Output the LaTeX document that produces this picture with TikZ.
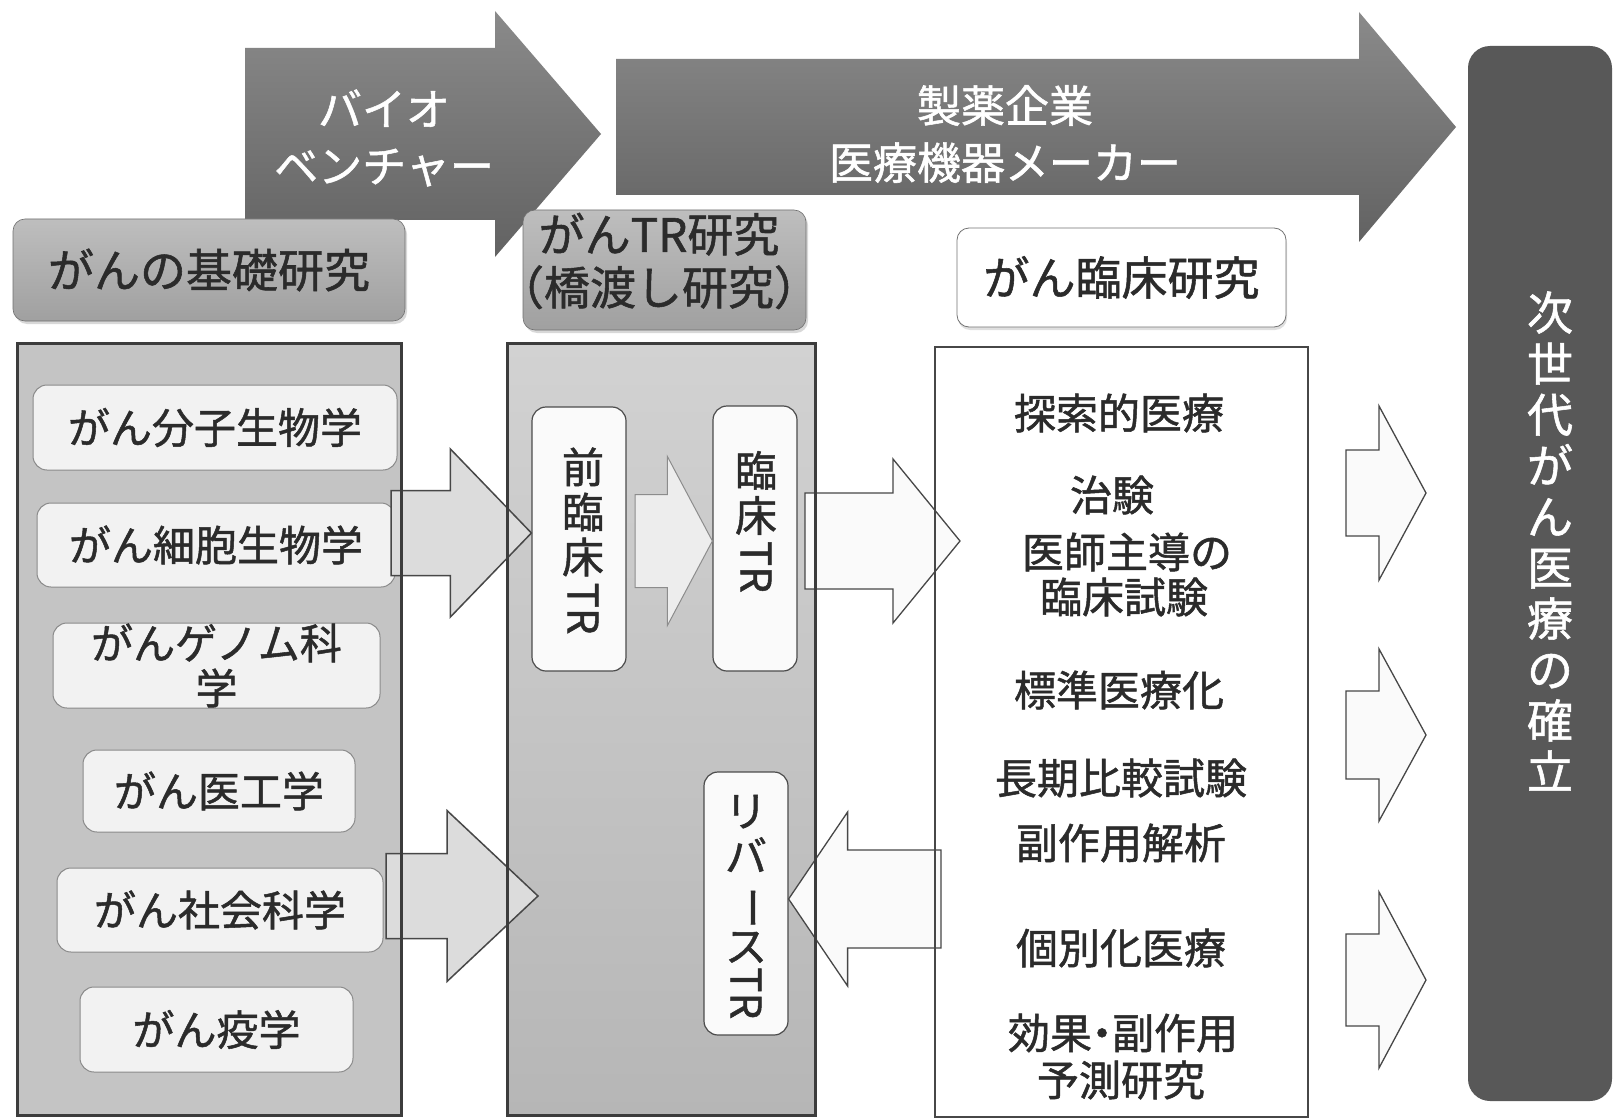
\documentclass[tikz,border=0pt]{standalone}
\usepackage{fontspec}
\usepackage{graphicx}
\newfontfamily\jp{Noto Sans CJK JP}[FakeBold=1.2]
\usetikzlibrary{calc,shadows}
\definecolor{txtc}{HTML}{2B2B2B}
\definecolor{panelfill}{HTML}{C4C4C4}
\definecolor{panelline}{HTML}{3C3C3C}
\definecolor{boxfill}{HTML}{F2F2F2}
\definecolor{boxline}{HTML}{8A8A8A}
\definecolor{darkfill}{HTML}{585858}
\definecolor{arrowtop}{HTML}{8A8A8A}
\definecolor{arrowbot}{HTML}{626262}
\definecolor{hdrtop}{HTML}{BEBEBE}
\definecolor{hdrbot}{HTML}{A0A0A0}
\definecolor{midtop}{HTML}{D2D2D2}
\definecolor{midbot}{HTML}{B6B6B6}
\definecolor{arrA}{HTML}{DCDCDC}
\definecolor{arrB}{HTML}{EDEDED}
\definecolor{arrW}{HTML}{FAFAFA}
\definecolor{arrline}{HTML}{474747}
\newcommand\blockarrow[6][]{%
  \coordinate (hb) at ($(#3)!#6!(#2)$);
  \draw[#1] ($(#2)+(0,#4)$) -- ($(hb)+(0,#4)$) -- ($(hb)+(0,#5)$) -- (#3)
     -- ($(hb)+(0,-#5)$) -- ($(hb)+(0,-#4)$) -- ($(#2)+(0,-#4)$) -- cycle;}
\begin{document}
\begin{tikzpicture}[x=1pt,y=-1pt,
  t42/.style={font=\jp\fontsize{42}{45}\selectfont, text=txtc, inner sep=0pt, align=center},
  t46/.style={font=\jp\fontsize{46}{53}\selectfont, text=txtc, inner sep=0pt, align=center},
  t44w/.style={font=\jp\fontsize{44}{57}\selectfont, text=white, inner sep=0pt, align=center},
  t46w/.style={font=\jp\fontsize{46}{51}\selectfont, text=white, inner sep=0pt, align=center},
  bigarrow/.style={top color=arrowtop, bottom color=arrowbot, draw=none},
  darkbox/.style={fill=darkfill, rounded corners=22pt, draw=none, inner sep=0pt},
  hdr/.style={top color=hdrtop, bottom color=hdrbot, draw=hdrbot!70!black, line width=0.6pt,
    rounded corners=12pt, drop shadow={shadow xshift=2pt, shadow yshift=-3pt, opacity=0.3}},
  clinhdr/.style={fill=white, draw=black!55, line width=0.8pt, rounded corners=12pt,
    drop shadow={shadow xshift=1pt, shadow yshift=-3pt, opacity=0.25}},
  panel/.style={draw=panelline, line width=3pt, outer sep=0pt, inner sep=0pt},
  ibox/.style={fill=boxfill, draw=boxline, line width=1pt, rounded corners=14pt},
  trbox/.style={fill=arrW, draw=black!70, line width=1.2pt, rounded corners=14pt, inner sep=0pt},
  arrowA/.style={fill=arrA, draw=arrline, line width=1.5pt},
  arrowB/.style={fill=arrB, draw=black!45, line width=1pt},
  arrowW/.style={fill=arrW, draw=arrline, line width=1.3pt}
]
\useasboundingbox (0,0) rectangle (1617,1118);
\fill[white] (0,0) rectangle (1617,1118);

% top arrows
\coordinate (bioS) at (245,134);
\coordinate (bioE) at (601,134);
\blockarrow[bigarrow]{bioS}{bioE}{86}{123}{106pt}
\coordinate (phS) at (616,127);
\coordinate (phE) at (1456,127);
\blockarrow[bigarrow]{phS}{phE}{68}{115}{97pt}
\node[t44w] (bio) at (384,138) {バイオ\\ベンチャー};
\node[t44w] (pharma) at (1005,134) {製薬企業\\医療機器メーカー};

% goal box
\node[darkbox, minimum width=144, minimum height=1055] (goal) at (1540,573.5) {};
\node[t46w] (goalT) at (1550,541) {次\\世\\代\\が\\ん\\医\\療\\の\\確\\立};

% headers
\node[hdr, t46, minimum width=392, minimum height=102] (basic) at (209,270) {がんの基礎研究};
\node[hdr, minimum width=283, minimum height=120] (trh) at (664.5,270) {};
\node[t46] (trhT) at (659,261) {がんTR研究\\（橋渡し研究）};
\node[clinhdr, t46, minimum width=329, minimum height=99] (clinh) at (1121.5,277.5) {がん臨床研究};

% panels
\node[panel, fill=panelfill, minimum width=384, minimum height=772] (colA) at (209,729) {};
\node[panel, top color=midtop, bottom color=midbot, minimum width=308, minimum height=772] (colB) at (661,729) {};
\node[panel, fill=white, draw=black!72, line width=2pt, minimum width=373, minimum height=770] (colC) at (1121.5,732) {};

% basic research boxes
\node[ibox, t42, minimum width=364, minimum height=85] (mol) at (215,427.5) {がん分子生物学};
\node[ibox, t42, minimum width=358, minimum height=84] (cell) at (216,545) {がん細胞生物学};
\node[ibox, t42, minimum width=327, minimum height=85] (gen) at (216.5,665.5) {がんゲノム科\\学};
\node[ibox, t42, minimum width=272, minimum height=82] (eng) at (219,791) {がん医工学};
\node[ibox, t42, minimum width=326, minimum height=84] (soc) at (220,910) {がん社会科学};
\node[ibox, t42, minimum width=273, minimum height=85] (epi) at (216.5,1029.5) {がん疫学};

% TR boxes
\node[trbox, minimum width=94, minimum height=264] (pre) at (579,539) {};
\node[trbox, minimum width=84, minimum height=265] (clin) at (755,538.5) {};
\node[trbox, minimum width=84, minimum height=263] (rev) at (746,903.5) {};
\node[t42] (preT) at (583,541) {前\\臨\\床\\[6pt]\rotatebox[origin=c]{-90}{TR}};
\node[t42] (clinT) at (756,522) {臨\\床\\[6pt]\rotatebox[origin=c]{-90}{TR}};
\node[t42] (revT) at (746,907) {リ\\バ\\\rotatebox[origin=c]{-90}{ー}\\ス\\[2pt]\rotatebox[origin=c]{-90}{TR}};

% block arrows
\coordinate (a1s) at (391,533);
\blockarrow[arrowA]{a1s}{a1s -| pre.west}{42.5}{84}{81pt}
\coordinate (a2s) at (386,896);
\coordinate (a2e) at (538,896);
\blockarrow[arrowA]{a2s}{a2e}{42.5}{85.5}{91pt}
\coordinate (a3s) at (635,541);
\blockarrow[arrowB]{a3s}{a3s -| clin.west}{46.5}{84.5}{45pt}
\coordinate (a4s) at (805,541);
\coordinate (a4e) at (960,541);
\blockarrow[arrowW]{a4s}{a4e}{48}{82}{67pt}
\coordinate (a5s) at (941,899);
\blockarrow[arrowW]{a5s}{a5s -| rev.east}{49}{87}{59pt}
\coordinate (r1s) at (1346,493);
\coordinate (r1e) at (1426,493);
\blockarrow[arrowW]{r1s}{r1e}{43}{87}{47pt}
\coordinate (r2s) at (1346,735);
\coordinate (r2e) at (1426,735);
\blockarrow[arrowW]{r2s}{r2e}{44}{86}{47pt}
\coordinate (r3s) at (1346,980);
\coordinate (r3e) at (1426,980);
\blockarrow[arrowW]{r3s}{r3e}{46}{88}{47pt}

% panel borders on top
\draw[panelline, line width=3pt] (colA.north west) rectangle (colA.south east);
\draw[panelline, line width=3pt] (colB.north west) rectangle (colB.south east);
\draw[black!72, line width=2pt] (colC.north west) rectangle (colC.south east);

% clinical research texts
\node[t42] (tx1) at (1119,413) {探索的医療};
\node[t42] (tx2) at (1112,495) {治験};
\node[t42] (tx3) at (1127,552) {医師主導の};
\node[t42] (tx4) at (1124,597) {臨床試験};
\node[t42] (tx5) at (1119,690) {標準医療化};
\node[t42] (tx6) at (1121,778) {長期比較試験};
\node[t42] (tx7) at (1121,843) {副作用解析};
\node[t42] (tx8) at (1121,948) {個別化医療};
\node[t42] (tx9) at (1123,1033) {効果\kern-11pt・\kern-11pt副作用};
\node[t42] (tx10) at (1121,1080) {予測研究};
\end{tikzpicture}
\end{document}
